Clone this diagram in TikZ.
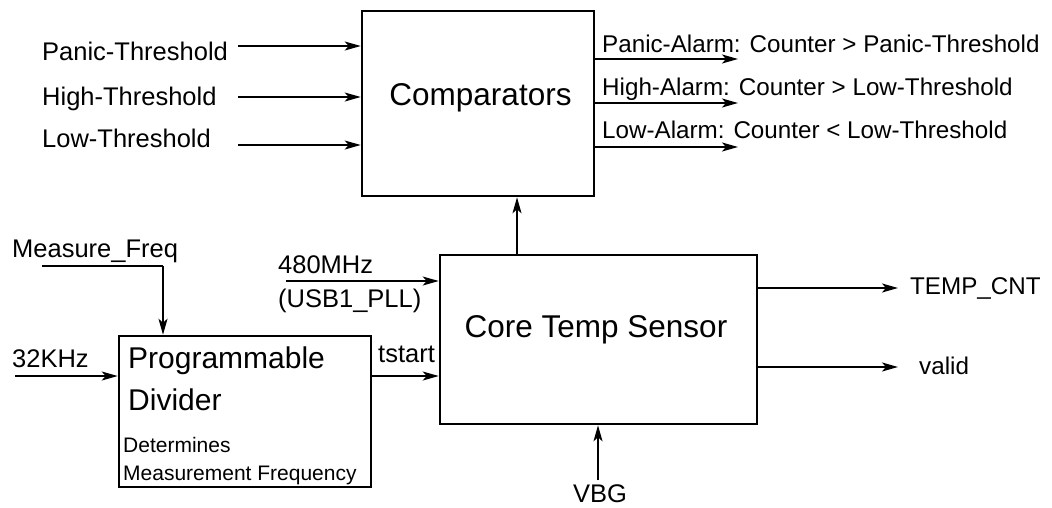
\documentclass[tikz,border=0pt]{standalone}
\usepackage{fontspec}
\setmainfont{Liberation Sans}
\usetikzlibrary{arrows.meta}
\begin{document}
\begin{tikzpicture}[x=1pt,y=-1pt,
  box/.style={draw,line width=2.6pt,inner sep=0pt},
  arr/.style={line width=1.8pt,-{Stealth[length=16pt,width=9pt,inset=4pt]}},
  wire/.style={line width=1.8pt},
  lbl/.style={anchor=base west,inner sep=0pt,font=\fontsize{25.5}{30}\selectfont},
  olbl/.style={anchor=base west,inner sep=0pt,font=\fontsize{24.2}{29}\selectfont},
  big/.style={anchor=base,inner sep=0pt,font=\fontsize{31.5}{38}\selectfont},
  mid/.style={anchor=base west,inner sep=0pt,font=\fontsize{30}{36}\selectfont},
  small/.style={anchor=base west,inner sep=0pt,font=\fontsize{21}{25}\selectfont}]
\useasboundingbox (0,0) rectangle (1052,507);

% boxes
\node[box,minimum width=232pt,minimum height=185pt] (cmp) at (478,103.5) {};
\node[box,minimum width=317pt,minimum height=169pt] (core) at (598.5,339.5) {};
\node[box,minimum width=252pt,minimum height=151pt] (div) at (245,411.5) {};

% box texts
\node[big] (cmpt) at (480.5,105) {Comparators};
\node[big] (coret) at (596,337) {Core Temp Sensor};
\node[mid] (divt1) at (128,368) {Programmable};
\node[mid] (divt2) at (128,410) {Divider};
\node[small] (divt3) at (123,452) {Determines};
\node[small] (divt4) at (123,480) {Measurement Frequency};

% comparator inputs
\node[lbl] (pth) at (42,60) {Panic-Threshold};
\node[lbl] (hth) at (42,105) {High-Threshold};
\node[lbl] (lth) at (42,147) {Low-Threshold};
\coordinate (pin) at (238,46);
\coordinate (hin) at (238,97);
\coordinate (lin) at (238,145);
\draw[arr] (pin) -- (pin -| cmp.west);
\draw[arr] (hin) -- (hin -| cmp.west);
\draw[arr] (lin) -- (lin -| cmp.west);

% comparator outputs
\node[olbl] (pal) at (602,52) {Panic-Alarm: Counter > Panic-Threshold};
\node[olbl] (hal) at (602,95) {High-Alarm: Counter > Low-Threshold};
\node[olbl] (lal) at (602,138) {Low-Alarm: Counter < Low-Threshold};
\coordinate (pout) at (738,59);
\coordinate (hout) at (738,103);
\coordinate (lout) at (738,147);
\draw[arr] (pout -| cmp.east) -- (pout);
\draw[arr] (hout -| cmp.east) -- (hout);
\draw[arr] (lout -| cmp.east) -- (lout);

% core to comparators
\coordinate (upx) at (517,0);
\draw[arr] (upx |- core.north) -- (upx |- cmp.south);

% core outputs
\node[olbl] (tcnt) at (910,294) {TEMP\_CNT};
\node[olbl] (valid) at (919,374) {valid};
\coordinate (tout) at (898,288);
\coordinate (vout) at (898,367);
\draw[arr] (tout -| core.east) -- (tout);
\draw[arr] (vout -| core.east) -- (vout);

% VBG
\node[lbl] (vbg) at (573,502) {VBG};
\coordinate (vbgin) at (598,480);
\draw[arr] (vbgin) -- (vbgin |- core.south);

% clock input
\node[lbl] (mhz) at (278,273) {480MHz};
\node[lbl] (usb) at (278,307) {(USB1\_PLL)};
\coordinate (mhzin) at (286,281);
\draw[arr] (mhzin) -- (mhzin -| core.west);

% tstart
\node[lbl] (tst) at (378,362) {tstart};
\coordinate (tsty) at (0,376);
\draw[arr] (tsty -| div.east) -- (tsty -| core.west);

% divider inputs
\node[lbl] (mf) at (12,257) {Measure\_Freq};
\coordinate (mfin) at (42,266);
\coordinate (mfx) at (163,0);
\draw[wire] (mfin) -- (mfin -| mfx);
\draw[arr] (mfin -| mfx) -- (mfx |- div.north);

\node[lbl] (khz) at (12,367) {32KHz};
\coordinate (khzin) at (15,376);
\draw[arr] (khzin) -- (khzin -| div.west);
\end{tikzpicture}
\end{document}
